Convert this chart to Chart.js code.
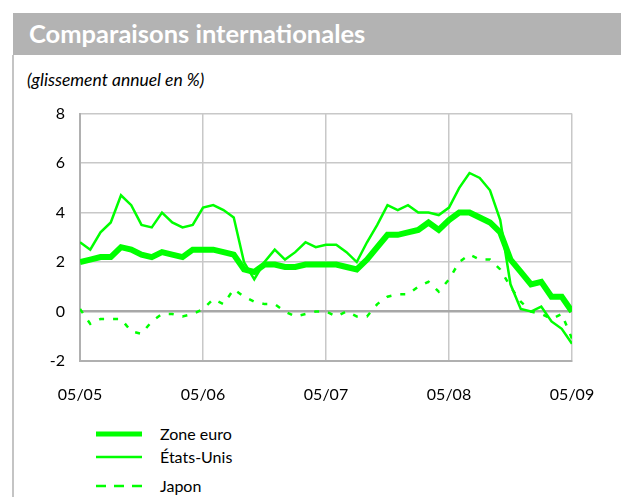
<!DOCTYPE html>
<html>
<head>
<meta charset="utf-8">
<script src="https://cdn.jsdelivr.net/npm/chart.js@4.4.1/dist/chart.umd.min.js"></script>
<style>
  body { margin: 0; background: #fff; font-family: Lato, 'Open Sans', sans-serif; }
  #page { position: relative; width: 621px; height: 497px; overflow: hidden; }
  #titlebar { position: absolute; left: 13px; top: 13px; width: 608px; height: 42px; background: #b3b3b3; }
  #titlebar span { position: absolute; left: 16px; top: 5px; color: #fff; font-weight: bold; font-size: 25.5px; }
  #leftrule { position: absolute; left: 12px; top: 55px; width: 2px; height: 442px; background: #c4c4c4; }
  #subtitle { position: absolute; left: 27px; top: 69px; font-style: italic; font-size: 17.5px; color: #000; }
  #chartbox { position: absolute; left: 13px; top: 89px; width: 608px; height: 321px; }
  .leg { position: absolute; left: 96px; font-size: 16px; color: #000; height: 20px; }
  .leg svg { position: absolute; left: 0; top: 0; }
  .leg span { position: absolute; left: 64px; top: 0; white-space: nowrap; line-height: 20px; }
</style>
</head>
<body>
<div id="page">
  <div id="titlebar"><span>Comparaisons internationales</span></div>
  <div id="leftrule"></div>
  <div id="subtitle">(glissement annuel en %)</div>
  <div id="chartbox"><canvas id="chart"></canvas></div>
  <div id="legend"></div>
</div>
<script>
// Monthly year-on-year inflation, May 2005 to May 2009
const tickLabels = ['05/05', '05/06', '05/07', '05/08', '05/09'];

const zoneEuro = [2.0, 2.1, 2.2, 2.2, 2.6, 2.5, 2.3, 2.2, 2.4, 2.3, 2.2, 2.5,
  2.5, 2.5, 2.4, 2.3, 1.7, 1.6, 1.9, 1.9, 1.8, 1.8, 1.9, 1.9,
  1.9, 1.9, 1.8, 1.7, 2.1, 2.6, 3.1, 3.1, 3.2, 3.3, 3.6, 3.3,
  3.7, 4.0, 4.0, 3.8, 3.6, 3.2, 2.1, 1.6, 1.1, 1.2, 0.6, 0.6, 0.0];

const etatsUnis = [2.8, 2.5, 3.2, 3.6, 4.7, 4.3, 3.5, 3.4, 4.0, 3.6, 3.4, 3.5,
  4.2, 4.3, 4.1, 3.8, 2.0, 1.3, 2.0, 2.5, 2.1, 2.4, 2.8, 2.6,
  2.7, 2.7, 2.4, 2.0, 2.8, 3.5, 4.3, 4.1, 4.3, 4.0, 4.0, 3.9,
  4.2, 5.0, 5.6, 5.4, 4.9, 3.7, 1.1, 0.1, 0.0, 0.2, -0.4, -0.7, -1.3];

const japon = [0.1, -0.5, -0.3, -0.3, -0.3, -0.8, -0.9, -0.4, -0.1, -0.1, -0.2, -0.1,
  0.1, 0.5, 0.3, 0.9, 0.6, 0.4, 0.3, 0.3, 0.0, -0.2, -0.1, 0.0,
  0.0, -0.2, 0.0, -0.2, -0.2, 0.3, 0.6, 0.7, 0.7, 1.0, 1.2, 0.8,
  1.3, 2.0, 2.3, 2.1, 2.1, 1.7, 1.0, 0.4, 0.0, -0.1, -0.3, -0.1, -1.1];

const green = '#00ff00';
const fontFace = "Lato, 'Open Sans', sans-serif";

const series = [
  { label: 'Zone euro', data: zoneEuro, width: 6, dash: [] },
  { label: 'États-Unis', data: etatsUnis, width: 2.5, dash: [] },
  { label: 'Japon', data: japon, width: 2.5, dash: [5, 9] }
];

const toPoints = (arr) => arr.map((v, i) => ({ x: i, y: v }));

new Chart(document.getElementById('chart'), {
  type: 'line',
  data: {
    datasets: series.map(s => ({
      label: s.label,
      data: toPoints(s.data),
      borderColor: green,
      borderWidth: s.width,
      borderDash: s.dash,
      pointRadius: 0,
      tension: 0,
      fill: false
    }))
  },
  options: {
    responsive: true,
    maintainAspectRatio: false,
    animation: false,
    layout: { padding: { top: 0, right: 49, left: 0, bottom: 0 } },
    plugins: { legend: { display: false }, tooltip: { enabled: false } },
    scales: {
      x: {
        type: 'linear',
        min: 0,
        max: 48,
        afterBuildTicks: (scale) => { scale.ticks = tickLabels.map((_, i) => ({ value: i * 12 })); },
        afterFit: (scale) => { scale.height = 49; },
        grid: { color: '#c8c8c8', lineWidth: 1.5, drawTicks: false },
        border: { color: '#b0b0b0', width: 2 },
        ticks: {
          color: '#000',
          padding: 24,
          maxRotation: 0,
          font: { family: fontFace, size: 16 },
          callback: (val) => tickLabels[val / 12]
        }
      },
      y: {
        min: -2,
        max: 8,
        afterFit: (scale) => { scale.width = 67; },
        grid: {
          color: (ctx) => ctx.tick && ctx.tick.value === 0 ? '#a8a8a8' : '#c8c8c8',
          lineWidth: (ctx) => ctx.tick && ctx.tick.value === 0 ? 2.5 : 1.5,
          drawTicks: false
        },
        border: { color: '#b0b0b0', width: 2 },
        ticks: {
          stepSize: 2,
          color: '#000',
          padding: 15,
          font: { family: fontFace, size: 16 }
        }
      }
    }
  }
});

// HTML legend
const legendRows = [434, 457, 486];
const legendEl = document.getElementById('legend');
series.forEach((s, i) => {
  const row = document.createElement('div');
  row.className = 'leg';
  row.style.top = (legendRows[i] - 10) + 'px';
  const dash = s.dash.length ? 'stroke-dasharray="10 8"' : '';
  row.innerHTML = '<svg width="48" height="20"><line x1="0" y1="10" x2="46" y2="10" stroke="' + green +
    '" stroke-width="' + (s.width === 6 ? 5 : 2.5) + '" ' + dash + '/></svg><span>' + s.label + '</span>';
  legendEl.appendChild(row);
});
</script>
</body>
</html>
